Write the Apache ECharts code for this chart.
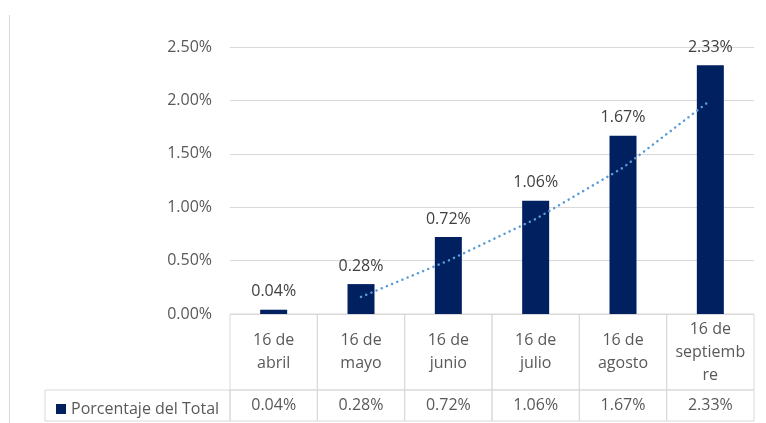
<!DOCTYPE html>
<html>
<head>
<meta charset="utf-8">
<script src="https://cdn.jsdelivr.net/npm/echarts@6/dist/echarts.min.js"></script>
<style>
  html, body { margin: 0; padding: 0; background: #fff; }
  #chart { width: 766px; height: 423px; }
</style>
</head>
<body>
<div id="chart"></div>
<script>
// datos del gráfico
var categories = ['16 de\nabril', '16 de\nmayo', '16 de\njunio', '16 de\njulio', '16 de\nagosto', '16 de\nseptiemb\nre'];
var values = [0.04, 0.28, 0.72, 1.06, 1.67, 2.33];
// línea de tendencia (media móvil)
var trend = ['-', 0.16, 0.50, 0.89, 1.37, 2.00];
var seriesName = 'Porcentaje del Total';

var FONT = 'Open Sans';
var SIZE = 16;
var GRAY = '#595959';
var LINE = '#d9d9d9';
var ROW_H = 31;      // alto de la fila de valores de la tabla
var LEGEND_X = 45;   // borde izquierdo de la celda de leyenda

var pct = function (v) { return v.toFixed(2) + '%'; };

var chart = echarts.init(document.getElementById('chart'));

// dibuja una columna de la tabla de datos bajo el gráfico
function renderTable(params, api) {
  var i = api.value(0);
  var top = api.coord([i, 1]);
  var bot = api.coord([i, 0]);
  var w = api.size([1, 0])[0];
  var x0 = top[0] - w / 2;
  var ySplit = bot[1] - ROW_H;
  var style = { fill: 'none', stroke: LINE, lineWidth: 1 };
  var children = [
    { type: 'rect', shape: { x: x0, y: top[1], width: w, height: ySplit - top[1] }, style: style },
    { type: 'rect', shape: { x: x0, y: ySplit, width: w, height: ROW_H }, style: style },
    {
      type: 'text',
      x: top[0], y: (top[1] + ySplit) / 2,
      style: {
        text: categories[i], fill: GRAY, font: SIZE + 'px "' + FONT + '"',
        align: 'center', verticalAlign: 'middle', lineHeight: 23
      }
    },
    {
      type: 'text',
      x: top[0], y: ySplit + ROW_H / 2,
      style: {
        text: pct(api.value(1)), fill: GRAY, font: SIZE + 'px "' + FONT + '"',
        align: 'center', verticalAlign: 'middle'
      }
    }
  ];
  if (i === 0) {
    children.push({ type: 'rect', shape: { x: LEGEND_X, y: ySplit, width: x0 - LEGEND_X, height: ROW_H }, style: style });
  }
  return { type: 'group', children: children };
}

chart.setOption({
  animation: false,
  backgroundColor: '#fff',
  textStyle: { fontFamily: FONT },
  graphic: [{
    type: 'line',
    shape: { x1: 9.5, y1: 15, x2: 9.5, y2: 423 },
    style: { stroke: LINE, lineWidth: 1 }
  }],
  legend: {
    data: [seriesName],
    left: 51, top: 396,
    icon: 'rect', itemWidth: 10, itemHeight: 10, itemGap: 6,
    textStyle: { color: GRAY, fontSize: SIZE, fontFamily: FONT }
  },
  grid: [
    { left: 230, right: 12, top: 47, bottom: 109 },
    { left: 230, right: 12, top: 314, bottom: 2 }
  ],
  xAxis: [
    {
      type: 'category', data: categories, gridIndex: 0,
      axisLine: { show: false }, axisTick: { show: false }, axisLabel: { show: false }
    },
    {
      type: 'category', data: categories, gridIndex: 1, show: false
    }
  ],
  yAxis: [
    {
      type: 'value', gridIndex: 0, min: 0, max: 2.5, interval: 0.5,
      axisLine: { show: false }, axisTick: { show: false },
      axisLabel: { color: GRAY, fontSize: SIZE, margin: 18, formatter: pct },
      splitLine: { lineStyle: { color: LINE } }
    },
    {
      type: 'value', gridIndex: 1, min: 0, max: 1, show: false
    }
  ],
  series: [
    {
      name: seriesName, type: 'bar', data: values,
      barWidth: 27,
      itemStyle: { color: '#002060' },
      label: {
        show: true, position: 'top', distance: 10,
        color: '#404040', fontSize: SIZE, formatter: function (p) { return pct(p.value); }
      }
    },
    {
      name: 'Tendencia', type: 'line', data: trend,
      symbol: 'none', z: 5, silent: true,
      lineStyle: { color: '#5B9BD5', width: 2.5, type: [0.1, 5.5], cap: 'round' }
    },
    {
      type: 'custom', xAxisIndex: 1, yAxisIndex: 1,
      data: values.map(function (v, i) { return [i, v]; }),
      renderItem: renderTable, silent: true
    }
  ]
});
</script>
</body>
</html>
